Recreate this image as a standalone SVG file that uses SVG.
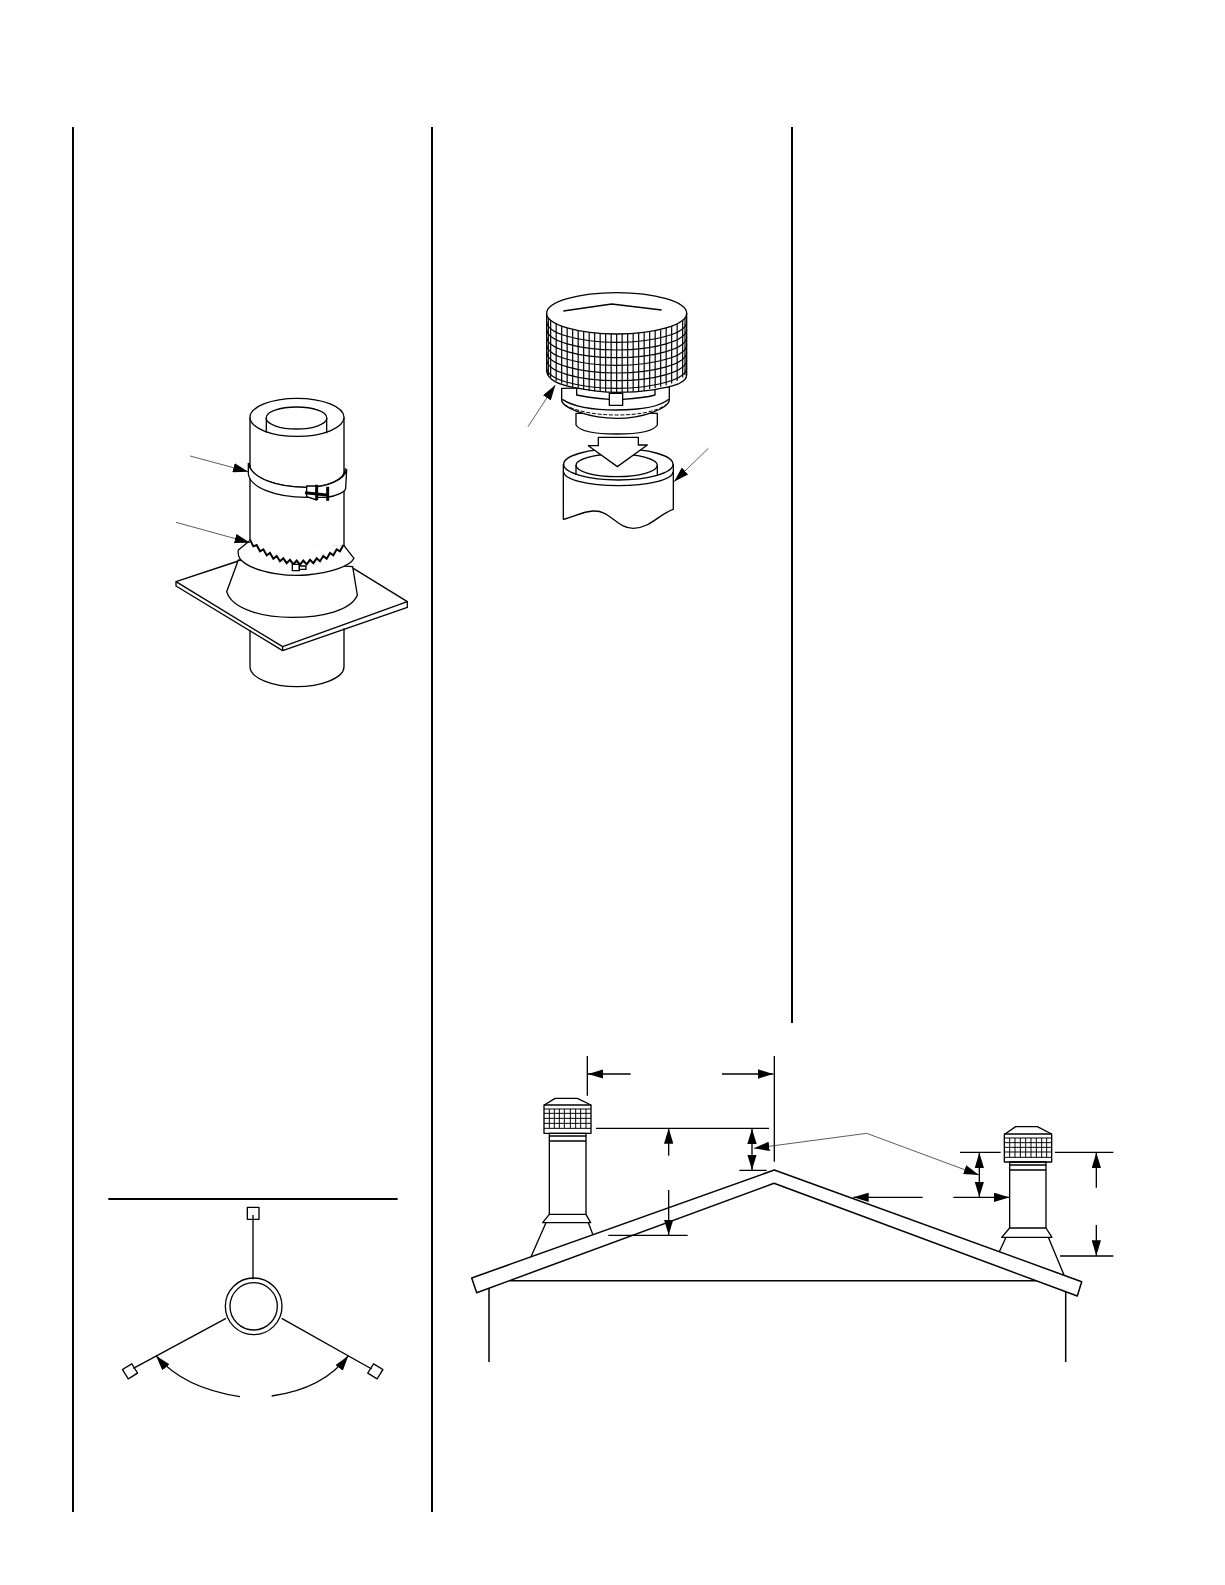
<svg xmlns="http://www.w3.org/2000/svg" width="1225" height="1585" viewBox="0 0 1225 1585">
<style>
.l{fill:none;stroke:#000;stroke-width:4;stroke-linejoin:round}
.w{fill:#fff;stroke:#000;stroke-width:4;stroke-linejoin:round}
.t{fill:none;stroke:#000;stroke-width:3}
.g{fill:none;stroke:#000;stroke-width:3.600}
.z{fill:none;stroke:#000;stroke-width:6;stroke-linejoin:miter}
.h{fill:none;stroke:#000;stroke-width:9}
.p{fill:none;stroke:#333;stroke-width:2.400}
.a{marker-end:url(#ah)}
.s{marker-start:url(#ah)}
.rule{stroke:#000;stroke-width:2;fill:none}
</style>
<defs>
<marker id="ah" markerUnits="userSpaceOnUse" viewBox="0 0 46 28" markerWidth="46" markerHeight="28" refX="46" refY="14" orient="auto-start-reverse"><path d="M0 0L46 14L0 28z" fill="#000"/></marker>
</defs>
<rect width="1225" height="1585" fill="#fff"/>
<g id="column-rules" class="rule">
<line x1="73" y1="127" x2="73" y2="1512"/>
<line x1="432" y1="127" x2="432" y2="1512"/>
<line x1="792" y1="127" x2="792" y2="1023"/>
</g>

<g id="pipe-and-flashing" transform="translate(160,380) scale(.33333)">
<path class="l" d="M270 750V860C270 895 340 920 410 920C480 920 552 895 552 860V745"/>
<path class="w" d="M48 605L235 543L580 565L742 665L368 800z"/>
<path class="l" d="M48 605V618L368 812L742 682V665M368 800V812"/>
<path class="w" d="M235 540L200 635C215 685 300 712 395 712C490 712 575 690 592 645L578 560z"/>
<path class="w" d="M270 112V490L552 500V112"/>
<ellipse class="w" cx="411" cy="112" rx="141" ry="57"/>
<path class="l" d="M319 114V158M500 114V160"/>
<ellipse class="l" cx="409.500" cy="114" rx="91" ry="33"/>
<path class="l" d="M268 250C268 295 350 322 440 322C500 322 556 300 556 265"/>
<path class="w" d="M265 250V282C270 320 340 352 440 352H500C530 348 557 335 557 325L560 268C555 300 500 322 440 322C350 322 275 295 265 250z"/>
<path class="w" d="M440 318H470V360L440 350z"/>
<path class="h" d="M470 314V360M503 320V362M435 338L500 345"/>
<path class="w" d="M268 483L235 510C232 530 240 540 255 550C300 580 390 590 440 585C510 578 570 560 582 535L552 497"/>
<path class="z" d="M270 479L280 499L290 495L300 514L310 508L320 526L330 519L340 536L350 528L360 544L370 535L380 549.500L390 539.500L400 553L410 541.700L420 554L430 541.700L440 553L450 539.500L460 549.500L470 535L480 544L490 528L500 536L510 519L520 526L530 508L540 514L550 495"/>
<rect class="w" x="397" y="553" width="21" height="19"/>
<rect class="w" x="418" y="558" width="20" height="10"/>
</g>

<g id="termination-cap" transform="translate(510,280) scale(.33333)">
<path class="w" d="M160 552V718C190 712 215 695 250 693C300 690 320 745 370 745C420 745 450 700 490 688V552"/>
<ellipse class="w" cx="325" cy="553" rx="164" ry="47"/>
<path class="l" d="M161 575A164 42 0 0 0 489 575"/>
<ellipse class="l" cx="320" cy="556" rx="122" ry="34"/>
<path class="l" d="M198 556V584M442 556V584"/>
<path class="w" d="M198 400V435C210 455 265 462 320 462C380 462 430 455 442 435V400z"/>
<path class="w" d="M155 325V362C160 385 240 415 320 415C400 415 475 385 478 360V320z"/>
<path class="l" d="M157 358C190 380 250 390 320 390C395 390 450 380 476 358"/>
<path class="t" stroke-dasharray="12 5" d="M165 375C200 395 260 405 320 405C385 405 440 395 470 373"/>
<path class="l" d="M200 325V345C230 352 270 356 298 358M338 358C370 356 410 352 435 345V325"/>
<rect class="w" x="298" y="340" width="40" height="36"/>
<path class="w" d="M110 100V275C115 300 150 315 190 322C240 332 280 337 320 337C400 337 470 325 505 312C520 305 530 295 530 285V100z"/>
<g class="g">
<path d="M320 162v175M336.500 161.800v175M303.500 161.800v175M353 161.200v175M287 161.200v175M369.500 160.300v175M270.500 160.300v175M386 158.900v175M254 158.900v175M402.500 157v175M237.500 157v175M419 154.700v172M221 154.700v172M435.500 151.800v172M204.500 151.800v172M452 148.200v172M188 148.200v172M468.500 143.800v172M171.500 143.800v172M485 138.400v172M155 138.400v172M501.500 131.200v172M138.500 131.200v172M518 120.700v172M122 120.700v172M525 113.500v172M115 113.500v172"/>
<path d="M110 125A210 62 0 0 0 530 125M110 148A210 62 0 0 0 530 148M110 171A210 62 0 0 0 530 171M110 194A210 62 0 0 0 530 194M110 217A210 62 0 0 0 530 217M110 240A210 62 0 0 0 530 240M110 263A210 62 0 0 0 530 263"/>
</g>
<ellipse class="w" cx="320" cy="100" rx="210" ry="62"/>
<path class="l" d="M160 93L305 72L455 90"/>
<path class="w" d="M265 472H385V495H412L322 560L235 497H265z"/>
</g>

<g id="guy-wires" transform="translate(100,1180) scale(.33333)">
<line x1="25" y1="57" x2="893" y2="57" stroke="#000" stroke-width="6"/>
<rect class="w" x="442" y="82" width="35" height="36"/>
<circle class="w" cx="461" cy="379" r="85"/>
<circle class="w" cx="461" cy="379" r="71"/>
<rect class="w" x="-16.500" y="-16.500" width="33" height="33" transform="translate(90,574) rotate(-32)"/>
<rect class="w" x="-16.500" y="-16.500" width="33" height="33" transform="translate(826,574) rotate(32)"/>
</g>

<g id="left-chimney" transform="translate(460,1040) scale(.33333)">
<path class="l" d="M258 548L213 650M385 548L398 582"/>
<path class="l" d="M268 280H378V523H268z"/>
<path class="l" d="M268 288H378M268 303H378"/>
<path class="l" d="M268 523L248 548H392L378 523"/>
<path class="l" d="M253 195L285 175H352L393 195"/>
<rect class="l" x="252" y="195" width="141" height="85"/>
<path class="t" d="M252 207H393M252 220H393M252 235H393M252 250H393M252 265H393M268 207V265M283 207V265M298 207V265M313 207V265M331 207V265M347 207V265M362 207V265M378 207V265"/>
</g>

<g id="right-chimney" transform="translate(780,1100) scale(.33333)">
<path class="l" d="M678 412L658 455M805 412L852 525"/>
<path class="l" d="M689 186H798V384H689z"/>
<path class="l" d="M689 195H798M689 210H798"/>
<path class="l" d="M689 384L665 412H816L798 384"/>
<path class="l" d="M675 102L707 80H772L815 102"/>
<rect class="l" x="673" y="102" width="142" height="84"/>
<path class="t" d="M673 114H815M673 128H815M673 142H815M673 156H815M673 172H815M689 114V172M705 114V172M721 114V172M737 114V172M753 114V172M769 114V172M785 114V172M800 114V172"/>
</g>

<g id="roof" fill="none" stroke="#000" stroke-width="1.500" stroke-linejoin="round">
<path d="M471.700 1278L774.300 1170L1081.700 1281.700L1077.300 1296L774 1183.300L476.700 1292.700z"/>
<path d="M510 1280.700H1036.700M489 1288V1362M1065.700 1292V1362"/>
</g>

<g id="connectors">
<g transform="translate(160,380) scale(.33333)">
<path class="p a" d="M90 228L265 275"/>
<path class="p a" d="M48 427L270 488"/>
</g>
<g transform="translate(510,280) scale(.33333)">
<path class="p a" d="M54 440L136 315"/>
<path class="p a" d="M595 505L492 605"/>
</g>
<g transform="translate(100,1180) scale(.33333)">
<path class="l" d="M459 105V298M378 415L100 565M545 415L815 567"/>
<path class="l a" d="M420 650C320 635 230 600 168 527"/>
<path class="l a" d="M515 648C610 635 690 600 745 527"/>
</g>
<g transform="translate(460,1040) scale(.33333)">
<path class="l" d="M382 48V167M943 48V365M408 265H927M838 391H920M445 586H683"/>
<path class="l a" d="M512 102H384"/>
<path class="l a" d="M786 102H940"/>
<path class="l a" d="M626 347V265"/>
<path class="l a" d="M626 450V585"/>
<path class="l a" d="M876 330V266"/>
<path class="l a" d="M876 330V390"/>
<path class="p a s" d="M882 325L1220 280L1557 405"/>
</g>
<g transform="translate(780,1100) scale(.33333)">
<path class="l" d="M540 157H662M825 157H1000M840 468H1000"/>
<path class="l a" d="M949 263V158"/>
<path class="l a" d="M949 375V467"/>
<path class="l a" d="M598 225V158"/>
<path class="l a" d="M598 225V291"/>
<path class="l a" d="M428 292H220"/>
<path class="l a" d="M520 292H688"/>
</g>
</g>
</svg>
